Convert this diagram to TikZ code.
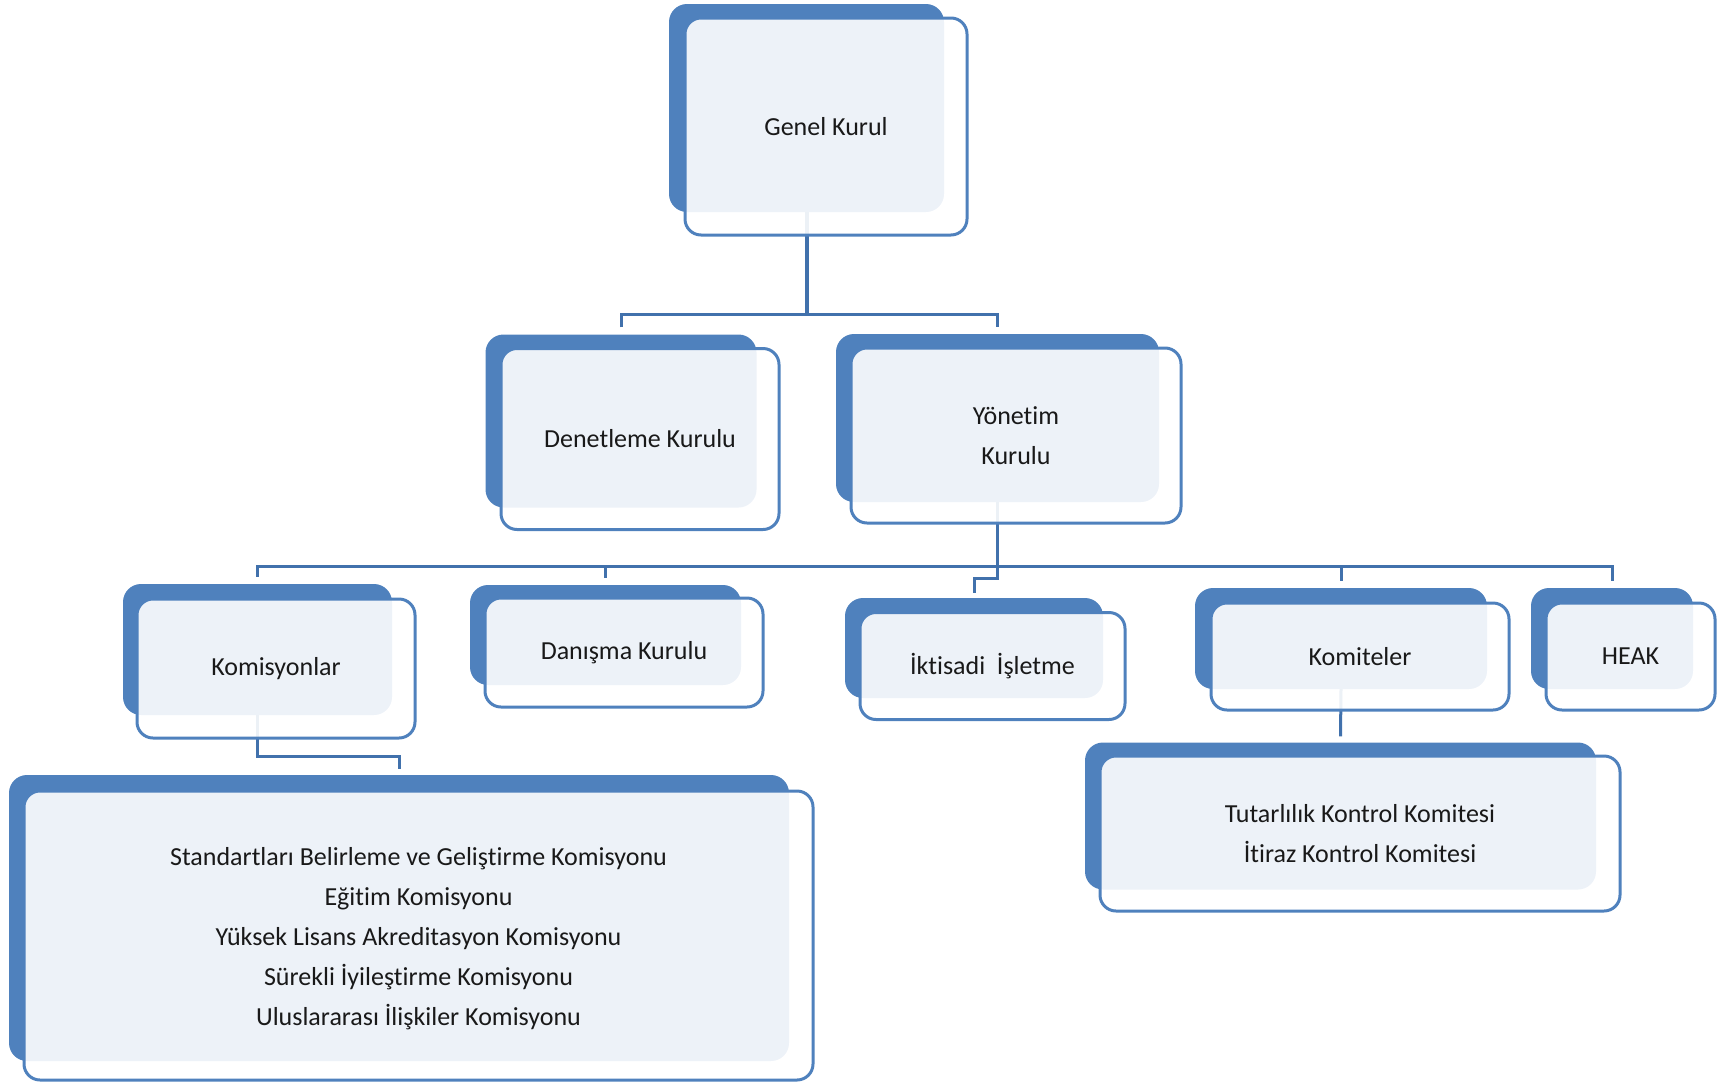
\documentclass[tikz,border=0pt]{standalone}
\usepackage{fontspec}
\setmainfont{Carlito}[Ligatures=NoCommon]
\usetikzlibrary{positioning,calc}
\definecolor{orgblue}{RGB}{79,129,189}
\definecolor{linkblue}{RGB}{65,113,172}

\begin{document}
\begin{tikzpicture}[
    x=1pt, y=-1pt,
    backbox/.style={fill=orgblue, rounded corners=18pt, inner sep=0pt},
    frontbox/.style={draw=orgblue, line width=3pt, fill=white, fill opacity=0.9, text opacity=1, rounded corners=16pt, inner sep=0pt, align=center, text=black!90, font=\fontsize{26}{40}\selectfont},
    conn/.style={draw=linkblue, line width=3pt}
]
\useasboundingbox (0,0) rectangle (1718,1082);

% Back shapes
\node[backbox, minimum width=275pt, minimum height=208pt] (genback) at (806.5,108) {};
\node[backbox, minimum width=271pt, minimum height=173pt] (denback) at (621,421) {};
\node[backbox, minimum width=323pt, minimum height=168pt] (yonback) at (997.5,418) {};
\node[backbox, minimum width=269pt, minimum height=131pt] (komback) at (257.5,649.5) {};
\node[backbox, minimum width=271pt, minimum height=100pt] (danback) at (605.5,635) {};
\node[backbox, minimum width=258pt, minimum height=100pt] (iktback) at (974,648) {};
\node[backbox, minimum width=292pt, minimum height=101pt] (komiback) at (1341,638.5) {};
\node[backbox, minimum width=162pt, minimum height=101pt] (heakback) at (1612,638.5) {};
\node[backbox, minimum width=511pt, minimum height=147pt] (tutback) at (1340.5,816) {};
\node[backbox, minimum width=780pt, minimum height=286pt] (listback) at (399,918) {};

% Connections
\coordinate (busA) at (806.5,314);
\draw[conn, line width=4pt] (genback.south) -- (busA);
\draw[conn] ([yshift=7pt]denback.north) |- (busA) -| ([yshift=7pt]yonback.north);

\coordinate (busB) at (997.5,566);
\draw[conn] (yonback.south) -- (busB);
\draw[conn] ([yshift=7pt]komback.north) |- (busB) -| ([yshift=7pt]heakback.north);
\draw[conn] (danback.north |- busB) -- ([yshift=7pt]danback.north);
\draw[conn] (komiback.north |- busB) -- ([yshift=7pt]komiback.north);
\draw[conn] (busB) -- ++(0,12) -| ([yshift=5pt]iktback.north);

\draw[conn] (komback.south) -- ++(0,41) -| ([yshift=6pt]listback.north);
\draw[conn] (komiback.south) -- ([yshift=6pt]tutback.north);

% Front shapes
\node[frontbox, minimum width=282pt, minimum height=217pt] (genel) at (826,126.5) {Genel Kurul};
\node[frontbox, minimum width=278pt, minimum height=181pt] (denetleme) at (640,439) {Denetleme Kurulu};
\node[frontbox, minimum width=330pt, minimum height=175pt] (yonetim) at (1016,435.5) {Yönetim\\Kurulu};
\node[frontbox, minimum width=278pt, minimum height=139pt] (komisyonlar) at (276,668.5) {Komisyonlar};
\node[frontbox, minimum width=278pt, minimum height=109pt] (danisma) at (624,652.5) {Danışma Kurulu};
\node[frontbox, minimum width=265pt, minimum height=107pt] (iktisadi) at (992.5,666) {İktisadi\ \ İşletme};
\node[frontbox, minimum width=298pt, minimum height=107pt] (komiteler) at (1360,656.5) {Komiteler};
\node[frontbox, minimum width=169pt, minimum height=107pt] (heak) at (1630.5,656.5) {HEAK};
\node[frontbox, minimum width=520pt, minimum height=155pt] (kontrol) at (1360,833.5) {Tutarlılık Kontrol Komitesi\\İtiraz Kontrol Komitesi};
\node[frontbox, minimum width=789pt, minimum height=289pt] (liste) at (418.5,935.5) {};
\node[align=center, text=black!90, font=\fontsize{26}{40}\selectfont] (listetext) at ($(liste.center)+(0,3)$) {Standartları Belirleme ve Geliştirme Komisyonu\\Eğitim Komisyonu\\Yüksek Lisans Akreditasyon Komisyonu\\Sürekli İyileştirme Komisyonu\\Uluslararası İlişkiler Komisyonu};

\end{tikzpicture}
\end{document}
